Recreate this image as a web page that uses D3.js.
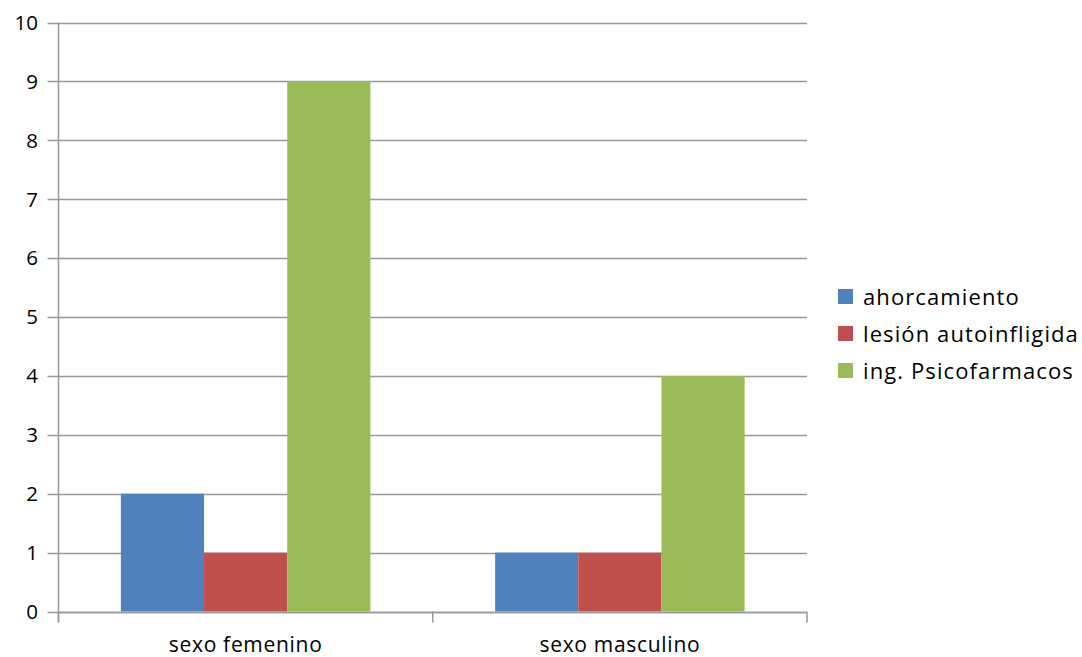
<!DOCTYPE html>
<html>
<head>
<meta charset="utf-8">
<script src="https://cdn.jsdelivr.net/npm/d3@7"></script>
<style>
  html, body { margin: 0; padding: 0; background: #fff; }
  svg { display: block; }
  text { font-family: "Open Sans", "Noto Sans", sans-serif; fill: #000; }
</style>
</head>
<body>
<svg id="chart" width="1082" height="657"></svg>
<script>
// Casos por sexo y método
const categories = ["sexo femenino", "sexo masculino"];
const seriesNames = ["ahorcamiento", "lesión autoinfligida", "ing. Psicofarmacos"];
const ahorcamiento = [2, 1];
const lesionAutoinfligida = [1, 1];
const ingPsicofarmacos = [9, 4];
const yTicks = [0, 1, 2, 3, 4, 5, 6, 7, 8, 9, 10];
const colors = ["#4F81BD", "#C0504D", "#9BBB59"];

const seriesValues = [ahorcamiento, lesionAutoinfligida, ingPsicofarmacos];

const svg = d3.select("#chart");
const plot = { left: 58.5, right: 807, top: 22.5, bottom: 611.5 };

const x = d3.scaleBand().domain(categories).range([plot.left, plot.right]).padding(0);
const xs = d3.scaleBand().domain(seriesNames).range([0, x.bandwidth()])
  .paddingInner(0).paddingOuter(0.75);
const y = d3.scaleLinear().domain([0, 10]).range([plot.bottom, plot.top]);

const gridColor = "#989898";

// horizontal gridlines with tick marks to the left
const grid = svg.append("g");
grid.selectAll("line").data(yTicks).join("line")
  .attr("x1", plot.left - 11).attr("x2", plot.right)
  .attr("y1", d => Math.round(y(d)) + 0.5).attr("y2", d => Math.round(y(d)) + 0.5)
  .attr("stroke", gridColor).attr("stroke-width", 1.5);

// bars
const groups = svg.append("g").selectAll("g").data(categories).join("g")
  .attr("transform", d => `translate(${x(d)},0)`);
groups.selectAll("rect")
  .data((c, ci) => seriesNames.map((s, si) => ({ s, si, v: seriesValues[si][ci] })))
  .join("rect")
  .attr("x", d => xs(d.s))
  .attr("width", xs.bandwidth())
  .attr("y", d => y(d.v))
  .attr("height", d => y(0) - y(d.v))
  .attr("fill", d => colors[d.si]);

// y axis line
svg.append("line")
  .attr("x1", plot.left).attr("x2", plot.left)
  .attr("y1", plot.top).attr("y2", plot.bottom + 11)
  .attr("stroke", gridColor).attr("stroke-width", 1.5);

// x axis baseline and category separators
svg.append("line")
  .attr("x1", plot.left).attr("x2", plot.right)
  .attr("y1", Math.round(y(0)) + 0.5).attr("y2", Math.round(y(0)) + 0.5)
  .attr("stroke", gridColor).attr("stroke-width", 1.5);
const bounds = categories.map(c => x(c)).concat([x(categories[categories.length - 1]) + x.bandwidth()]);
svg.append("g").selectAll("line").data(bounds).join("line")
  .attr("x1", d => d).attr("x2", d => d)
  .attr("y1", plot.bottom).attr("y2", plot.bottom + 11)
  .attr("stroke", gridColor).attr("stroke-width", 1.5);

// y tick labels
svg.append("g").selectAll("text").data(yTicks).join("text")
  .attr("x", 38).attr("y", d => y(d))
  .attr("dy", "0.36em")
  .attr("text-anchor", "end")
  .attr("font-size", 20.5)
  .text(d => d);

// category labels
svg.append("g").selectAll("text").data(categories).join("text")
  .attr("x", d => x(d) + x.bandwidth() / 2)
  .attr("y", 652)
  .attr("text-anchor", "middle")
  .attr("font-size", 21)
  .attr("letter-spacing", 0.7)
  .text(d => d);

// legend
const legend = svg.append("g").attr("transform", "translate(838,289)");
const items = legend.selectAll("g").data(seriesNames).join("g")
  .attr("transform", (d, i) => `translate(0,${i * 37})`);
items.append("rect").attr("width", 15).attr("height", 15)
  .attr("fill", (d, i) => colors[i]);
items.append("text").attr("x", 25).attr("y", 16)
  .attr("font-size", 22)
  .attr("letter-spacing", 1.1)
  .text(d => d);
</script>
</body>
</html>
